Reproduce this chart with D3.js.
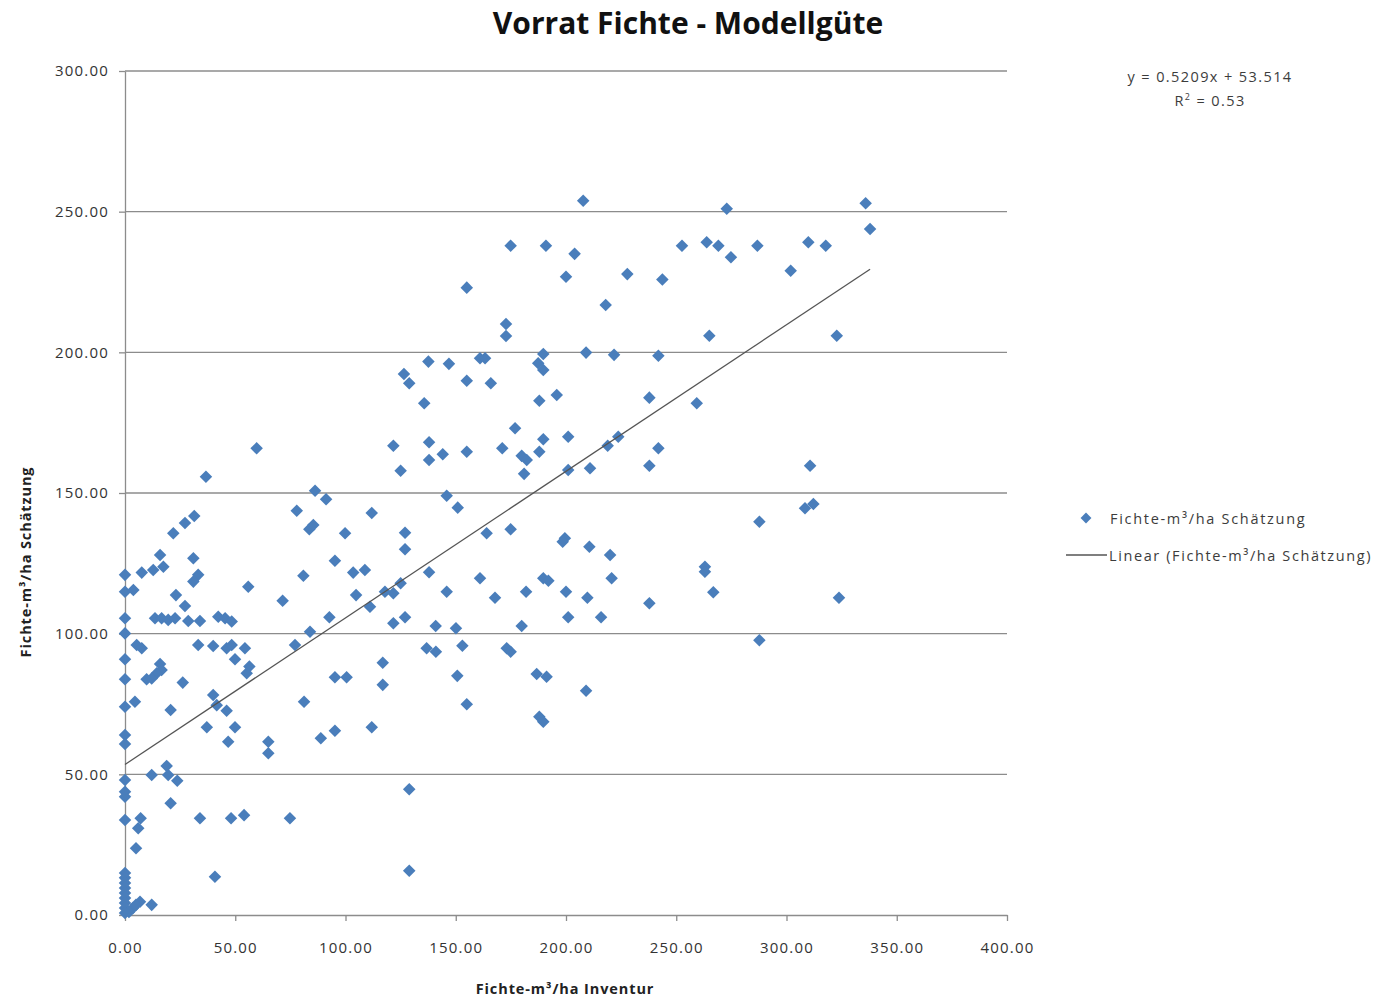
<html>
<head>
  <meta http-equiv="Content-Type" content="text/html;charset=utf-8"/>
  <script src="https://cdnjs.cloudflare.com/ajax/libs/d3/7.8.5/d3.min.js"></script>
  <style>
    body { margin: 0; background: #fff; }
    text { font-family: "Open Sans", "Noto Sans", sans-serif; fill: #3c3c3c; }
    .grid line { stroke: #8c8c8c; stroke-width: 1.3; }
    .axis path, .axis line { stroke: #8c8c8c; stroke-width: 1.3; }
    .axis text { font-size: 15px; fill: #333; letter-spacing: 1.2px; }
    .lbl { font-size: 14.5px; letter-spacing: 1.4px; }
  </style>
</head>
<body>
<div id="chart"></div>
<script>
// Inventur (x) values, m³/ha
var inventur = [
  0, 0, 0, 0, 0, 0, 0, 0, 0, 0, 0, 0, 0,
  0, 0, 0, 0, 0, 0, 0, 0, 0,
  3.6, 1.8, 6.8, 12.1, 5.0,
  3.8, 5.3, 7.6, 4.5, 7.6, 12.8, 17.4, 15.9, 13.6, 16.6, 19.6, 22.7, 28.7, 34.0,
  15.9, 16.6, 14.4, 9.8, 12.1, 23.1, 27.2, 21.9, 27.2, 31.4, 31.0, 33.2, 31.0,
  26.2, 20.7, 12.1, 18.9, 19.6, 23.7, 20.7, 34.0, 7.1, 6.0, 5.0, 40.8, 36.7, 59.7,
  33.2, 40.0, 46.1, 48.4, 54.4, 40.0, 41.6, 46.1, 37.1, 49.9, 46.8, 42.3, 45.4, 48.4,
  49.9, 56.4, 55.2, 55.9, 54.0, 48.1, 65.0, 65.0, 71.5, 74.8, 77.9, 77.1, 80.9, 81.2,
  83.9, 83.6, 85.4, 86.2, 91.2, 88.8, 95.2, 92.7, 95.2, 95.2, 100.5, 99.8, 104.8,
  103.5, 108.8, 111.9, 111.1, 111.9, 116.9, 116.9, 117.9, 121.7, 125.0, 121.7, 127.0,
  121.7, 127.0, 127.0, 125.0, 126.5, 128.9, 135.7, 137.6, 146.9, 137.9, 137.9, 144.1,
  137.9, 140.9, 136.8, 141.0, 145.9, 145.9, 150.9, 150.1, 153.0, 150.7, 155.0, 155.0,
  155.0, 155.0, 161.0, 163.3, 165.9, 161.0, 164.0, 167.8, 171.1, 172.8, 172.8, 173.1,
  174.9, 174.9, 174.9, 176.9, 179.9, 182.2, 181.0, 179.9, 181.9, 186.7, 191.2, 187.9,
  189.7, 187.4, 189.7, 189.7, 187.9, 195.8, 189.7, 187.9, 190.9, 189.7, 192.0, 199.5,
  198.5, 200.0, 201.0, 200.0, 203.9, 207.8, 201.0, 201.0, 209.1, 210.6, 209.7, 209.1,
  210.9, 218.0, 218.9, 223.7, 220.0, 220.7, 215.9, 221.8, 227.8, 237.8, 237.8, 241.9,
  237.8, 241.9, 243.7, 252.6, 259.3, 263.8, 269.1, 265.0, 263.0, 263.0, 266.8, 272.9,
  274.8, 286.8, 287.7, 287.7, 301.9, 308.4, 312.2, 309.9, 310.7, 317.8, 322.8, 323.8,
  335.9, 337.9, 128.9, 128.9
];
// Schätzung (y) values, m³/ha
var schaetzung = [
  120.9, 114.9, 105.5, 100.1, 90.9, 83.8, 74.0, 64.0, 60.8, 48.0, 43.8, 42.0, 33.8,
  14.9, 13.2, 11.4, 9.6, 7.8, 6.0, 4.3, 2.5, 0.7,
  2.5, 1.1, 4.7, 3.6, 3.6,
  115.5, 96.0, 94.8, 75.8, 121.7, 122.6, 123.8, 128.0, 105.5, 105.5, 104.9, 105.5, 104.5, 104.5,
  89.2, 87.1, 85.9, 83.8, 84.1, 113.7, 109.8, 135.7, 139.3, 141.8, 126.8, 120.9, 118.5,
  82.6, 72.9, 49.8, 53.0, 49.8, 47.7, 39.7, 34.4, 34.4, 30.8, 23.7, 13.6, 155.8, 165.9,
  96.0, 95.6, 94.8, 96.0, 94.8, 78.2, 74.6, 72.6, 66.7, 66.7, 61.6, 106.0, 105.5, 104.3,
  90.9, 88.3, 85.9, 116.7, 35.5, 34.4, 61.6, 57.5, 111.7, 34.4, 143.7, 96.0, 120.6, 75.8,
  100.7, 137.1, 138.6, 150.8, 147.8, 62.8, 65.5, 105.8, 125.9, 84.5, 84.5, 135.7, 113.7,
  121.7, 122.6, 142.9, 109.6, 66.7, 89.7, 81.8, 114.9, 114.4, 117.9, 103.7, 105.8,
  166.8, 135.9, 130.0, 157.9, 192.3, 189.0, 181.9, 196.7, 195.9, 168.0, 161.7, 163.8,
  121.8, 102.7, 94.8, 93.6, 114.9, 149.0, 144.8, 101.9, 95.7, 85.0, 74.9, 164.7,
  189.9, 223.0, 197.9, 197.9, 189.0, 119.7, 135.7, 112.8, 165.9, 210.1, 205.8, 94.8,
  93.6, 137.1, 237.9, 173.0, 163.2, 161.7, 156.8, 102.7, 114.9, 85.7, 84.7, 70.5,
  68.7, 196.1, 199.4, 193.7, 182.8, 184.8, 169.1, 164.7, 237.9, 119.7, 118.8, 133.9,
  132.7, 114.9, 105.8, 226.9, 235.0, 253.9, 170.0, 158.2, 199.9, 130.9, 112.8, 79.7,
  158.8, 216.8, 166.8, 170.0, 128.0, 119.7, 105.8, 199.1, 227.8, 183.9, 159.7, 165.9,
  110.8, 198.8, 225.9, 237.9, 181.9, 239.1, 237.9, 205.9, 123.8, 122.0, 114.7, 251.0,
  233.8, 237.9, 139.8, 97.7, 229.0, 144.6, 146.1, 239.1, 159.7, 237.9, 205.9, 112.8,
  253.0, 243.8, 44.7, 15.7
];
var xTicks = [0, 50, 100, 150, 200, 250, 300, 350, 400];
var yTicks = [0, 50, 100, 150, 200, 250, 300];
var slope = 0.5209, intercept = 53.514, rSquared = 0.53;

var width = 1374, height = 1000;
var margin = { left: 125, right: 367, top: 71, bottom: 85 };

var svg = d3.select('#chart').append('svg')
  .attr('width', width)
  .attr('height', height);

var x = d3.scaleLinear().domain([0, 400]).range([margin.left, width - margin.right]);
var y = d3.scaleLinear().domain([0, 300]).range([height - margin.bottom, margin.top]);

// horizontal gridlines
svg.append('g').attr('class', 'grid')
  .selectAll('line').data(yTicks.slice(1)).join('line')
  .attr('x1', x(0)).attr('x2', x(400))
  .attr('y1', function(d) { return y(d); })
  .attr('y2', function(d) { return y(d); });

svg.append('g').attr('class', 'axis')
  .attr('transform', 'translate(0,' + y(0) + ')')
  .call(d3.axisBottom(x).tickValues(xTicks).tickSize(6).tickSizeOuter(0).tickPadding(21)
    .tickFormat(d3.format('.2f')));

svg.append('g').attr('class', 'axis')
  .attr('transform', 'translate(' + x(0) + ',0)')
  .call(d3.axisLeft(y).tickValues(yTicks).tickSize(6).tickSizeOuter(0).tickPadding(10)
    .tickFormat(d3.format('.2f')));

// title
svg.append('text')
  .attr('x', 688).attr('y', 34)
  .attr('text-anchor', 'middle')
  .style('font-size', '30px').style('font-weight', 'bold').style('fill', '#111')
  .text('Vorrat Fichte - Modellgüte');

// axis titles
svg.append('text')
  .attr('x', 565).attr('y', 994)
  .attr('text-anchor', 'middle')
  .style('font-size', '14.5px').style('font-weight', 'bold').style('fill', '#222')
  .style('letter-spacing', '0.9px')
  .text('Fichte-m³/ha Inventur');

svg.append('text')
  .attr('transform', 'translate(31,562) rotate(-90)')
  .attr('text-anchor', 'middle')
  .style('font-size', '14.5px').style('font-weight', 'bold').style('fill', '#222')
  .style('letter-spacing', '0.9px')
  .text('Fichte-m³/ha Schätzung');

// points
var points = inventur.map(function(v, i) { return [v, schaetzung[i]]; });
var diamond = d3.symbol().type(d3.symbolDiamond2).size(100);

svg.append('g')
  .selectAll('path').data(points).join('path')
  .attr('d', diamond)
  .attr('transform', function(d) { return 'translate(' + x(d[0]) + ',' + y(d[1]) + ')'; })
  .attr('fill', '#4a7ebb');

// trend line
var xMax = d3.max(inventur);
svg.append('line')
  .attr('x1', x(0)).attr('y1', y(intercept))
  .attr('x2', x(xMax)).attr('y2', y(slope * xMax + intercept))
  .attr('stroke', '#555').attr('stroke-width', 1.3);

// equation
svg.append('text').attr('class', 'lbl')
  .attr('x', 1210).attr('y', 82)
  .attr('text-anchor', 'middle')
  .text('y = ' + slope + 'x + ' + intercept);
var r2 = svg.append('text').attr('class', 'lbl')
  .attr('x', 1210).attr('y', 106)
  .attr('text-anchor', 'middle');
r2.append('tspan').text('R');
r2.append('tspan').attr('dy', -6).style('font-size', '9px').text('2');
r2.append('tspan').attr('dy', 6).text(' = ' + rSquared.toFixed(2));

// legend
svg.append('path')
  .attr('d', d3.symbol().type(d3.symbolDiamond2).size(75))
  .attr('transform', 'translate(1086,518)')
  .attr('fill', '#4a7ebb');
svg.append('text').attr('class', 'lbl')
  .attr('x', 1110).attr('y', 524)
  .style('letter-spacing', '1.7px')
  .text('Fichte-m³/ha Schätzung');
svg.append('line')
  .attr('x1', 1066).attr('x2', 1107)
  .attr('y1', 555).attr('y2', 555)
  .attr('stroke', '#555').attr('stroke-width', 1.3);
svg.append('text').attr('class', 'lbl')
  .attr('x', 1109).attr('y', 561)
  .style('letter-spacing', '1.6px')
  .text('Linear (Fichte-m³/ha Schätzung)');
</script>
</body>
</html>
